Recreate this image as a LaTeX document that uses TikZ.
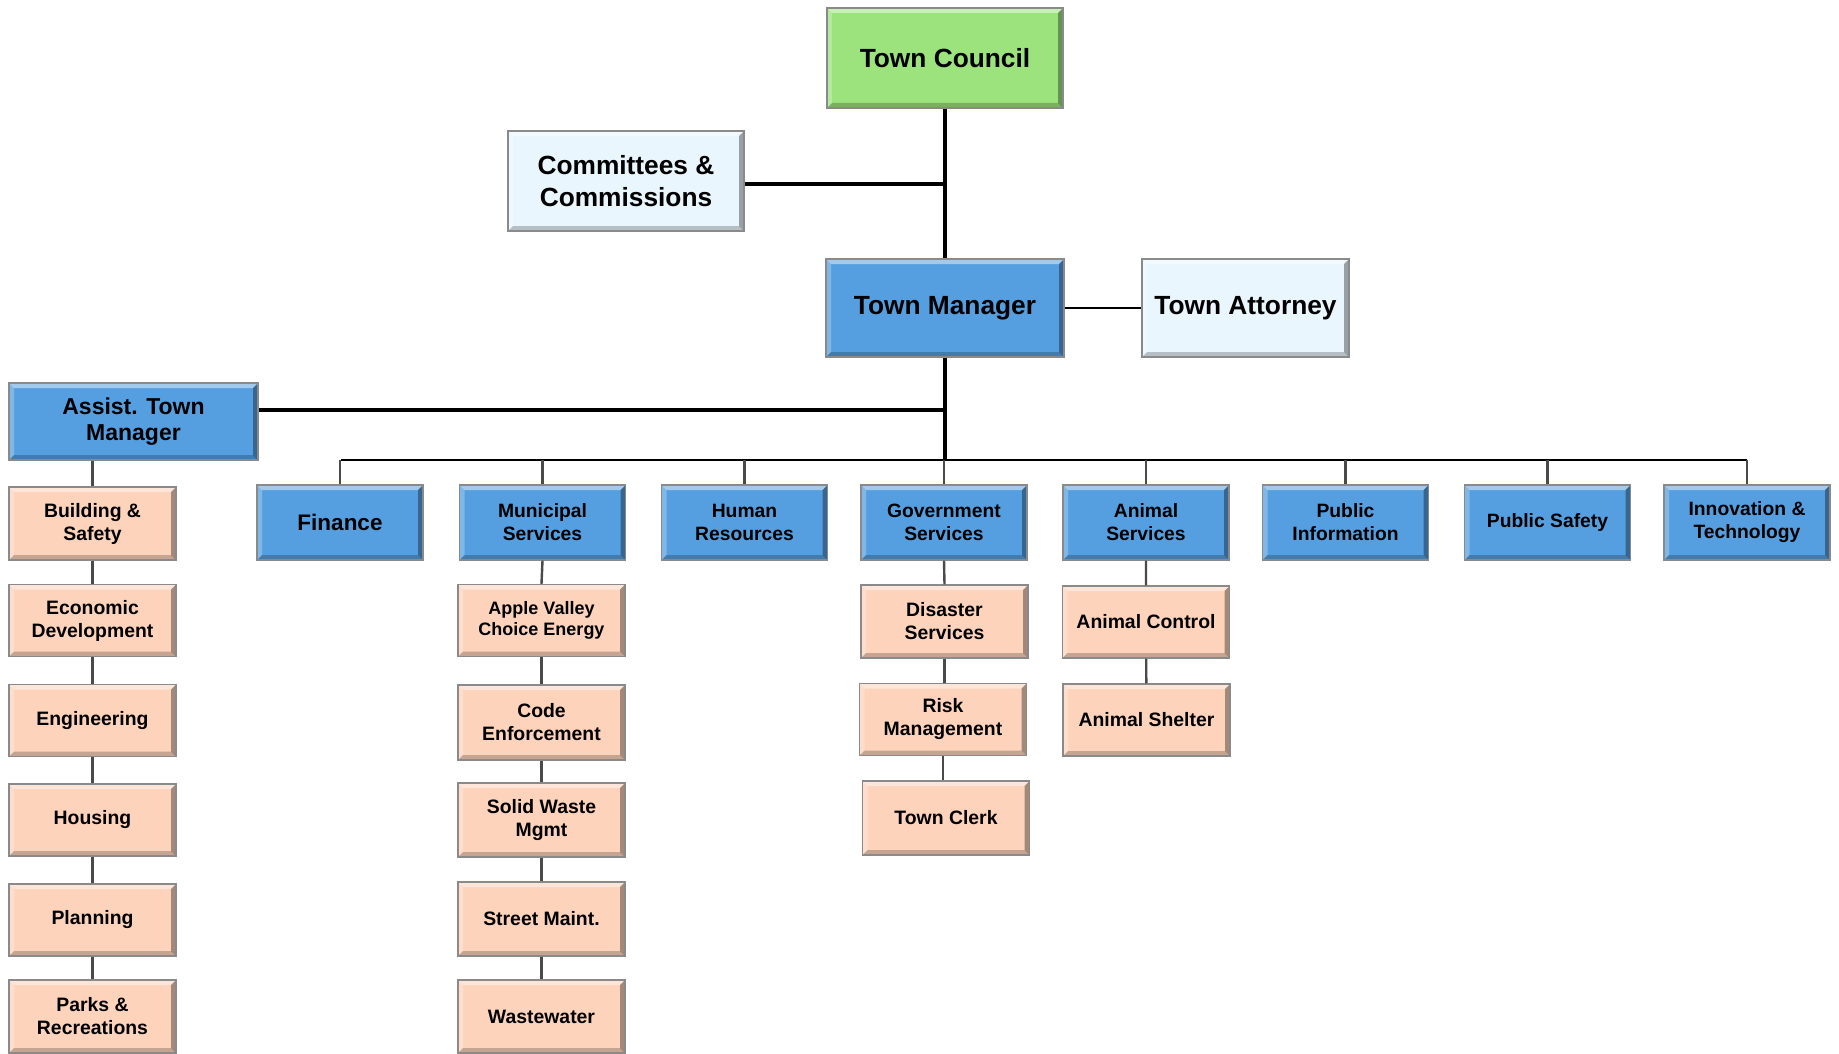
\documentclass[tikz,border=0pt]{standalone}
\usepackage{fontspec}
\setmainfont{Liberation Sans}
\definecolor{council}{HTML}{9CE37D}
\definecolor{mgr}{HTML}{559FE0}
\definecolor{pale}{HTML}{E9F6FD}
\definecolor{peach}{HTML}{FDD3BB}
\definecolor{edge}{HTML}{8A8A8A}
\definecolor{link}{HTML}{4A4A4A}
\begin{document}
\begin{tikzpicture}[x=1pt,y=-1pt,
  bevel/.style={path picture={
    \fill[white,opacity=.45] (path picture bounding box.north west) -- (path picture bounding box.north east)
      -- ([shift={(-5pt,-5pt)}]path picture bounding box.north east) -- ([shift={(5pt,-5pt)}]path picture bounding box.north west) -- cycle;
    \fill[white,opacity=.25] (path picture bounding box.north west) -- (path picture bounding box.south west)
      -- ([shift={(5pt,5pt)}]path picture bounding box.south west) -- ([shift={(5pt,-5pt)}]path picture bounding box.north west) -- cycle;
    \fill[black,opacity=.22] (path picture bounding box.south west) -- (path picture bounding box.south east)
      -- ([shift={(-5pt,5pt)}]path picture bounding box.south east) -- ([shift={(5pt,5pt)}]path picture bounding box.south west) -- cycle;
    \fill[black,opacity=.35] (path picture bounding box.north east) -- (path picture bounding box.south east)
      -- ([shift={(-5pt,5pt)}]path picture bounding box.south east) -- ([shift={(-5pt,-5pt)}]path picture bounding box.north east) -- cycle;
  }},
  box/.style={draw=edge, line width=1.3pt, align=center, inner sep=2pt, bevel},
  top/.style={box, minimum width=236, minimum height=100, font=\fontsize{26.3}{31.5}\selectfont\bfseries},
  dept/.style={box, fill=mgr, minimum width=166, minimum height=75, font=\fontsize{19.3}{23}\selectfont\bfseries},
  unit/.style={box, fill=peach, minimum width=167, minimum height=72, font=\fontsize{19.4}{23}\selectfont\bfseries},
  heavy/.style={line width=3.6pt, black},
  bus/.style={line width=2.8pt, black},
  drop/.style={line width=2.4pt, link}]
\useasboundingbox (0,0) rectangle (1839,1054);

% governing body and manager's office
\node[top, fill=council] (council) at (945,58) {Town Council};
\node[top, fill=pale] (committees) at (626,181) {Committees \&\\Commissions};
\node[top, fill=mgr, minimum width=238, minimum height=98] (manager) at (945,308) {Town Manager};
\node[top, fill=pale, minimum width=207, minimum height=98] (attorney) at (1245.5,308) {Town Attorney};
\node[box, fill=mgr, minimum width=249, minimum height=77, font=\fontsize{23}{26.5}\selectfont\bfseries] (assist) at (133.5,421.5) {Assist. Town\\Manager};

% departments
\node[dept, font=\fontsize{22.5}{26}\selectfont\bfseries] (finance) at (340,522.5) {Finance};
\node[dept] (municipal) at (542.5,522.5) {Municipal\\Services};
\node[dept] (hr) at (744.5,522.5) {Human\\Resources};
\node[dept] (gov) at (944,522.5) {Government\\Services};
\node[dept] (animal) at (1146,522.5) {Animal\\Services};
\node[dept] (pubinfo) at (1345.5,522.5) {Public\\Information};
\node[dept] (pubsafety) at (1547.5,522.5) {Public Safety};
\node[dept] (innov) at (1747,522.5) {Innovation \&\\Technology};

% divisions under the assistant town manager
\node[unit, minimum height=73] (building) at (92.5,523.5) {Building \&\\Safety};
\node[unit] (econ) at (92.5,620.5) {Economic\\Development};
\node[unit] (eng) at (92.5,720.5) {Engineering};
\node[unit] (housing) at (92.5,820) {Housing};
\node[unit] (planning) at (92.5,920) {Planning};
\node[unit, minimum height=73] (parks) at (92.5,1016.5) {Parks \&\\Recreations};

% municipal services divisions
\node[unit, font=\fontsize{18}{21.5}\selectfont\bfseries] (apple) at (541.5,620.5) {Apple Valley\\Choice Energy};
\node[unit, minimum height=75] (code) at (541.5,722.5) {Code\\Enforcement};
\node[unit, minimum height=74] (solid) at (541.5,820) {Solid Waste\\Mgmt};
\node[unit, minimum height=74] (street) at (541.5,919) {Street Maint.};
\node[unit, minimum height=73] (waste) at (541.5,1016.5) {Wastewater};

% government services divisions
\node[unit, minimum height=73] (disaster) at (944.5,621.5) {Disaster\\Services};
\node[unit] (risk) at (943,719.5) {Risk\\Management};
\node[unit, minimum height=74] (clerk) at (946,818) {Town Clerk};

% animal services divisions
\node[unit] (control) at (1146,622) {Animal Control};
\node[unit] (shelter) at (1146.5,720) {Animal Shelter};

% junction points on the spine
\coordinate (jc) at (945,184);
\coordinate (ja) at (945,410);
\coordinate (jb) at (945,460);
\coordinate (bl) at (341,460);
\coordinate (br) at (1747,460);

% spine and side branches
\draw[heavy] (council.south) -- (manager.north);
\draw[heavy] (committees.east |- jc) -- (jc);
\draw[line width=2.6pt] (manager.east) -- (attorney.west);
\draw[heavy] (manager.south) -- (jb);
\draw[heavy] (assist.east |- ja) -- (ja);
\draw[bus] (bl) -- (br);

% drops to departments
\foreach \d in {finance,municipal,hr,gov,animal,pubinfo,pubsafety,innov}
  \draw[drop] (\d.north |- jb) -- (\d.north);

% division chains
\draw[drop] (assist.south -| building.north) -- (building.north);
\draw[drop] (building) -- (econ) (econ) -- (eng) (eng) -- (housing) (housing) -- (planning) (planning) -- (parks);
\draw[drop] (municipal.south) -- (apple.north);
\draw[drop] (apple) -- (code) (code) -- (solid) (solid) -- (street) (street) -- (waste);
\draw[drop] (gov.south) -- (disaster.north);
\draw[drop] (disaster.south) -- (disaster.south |- risk.north) (risk.south) -- (risk.south |- clerk.north);
\draw[drop] (animal.south) -- (control.north) (control) -- (shelter);
\end{tikzpicture}
\end{document}
